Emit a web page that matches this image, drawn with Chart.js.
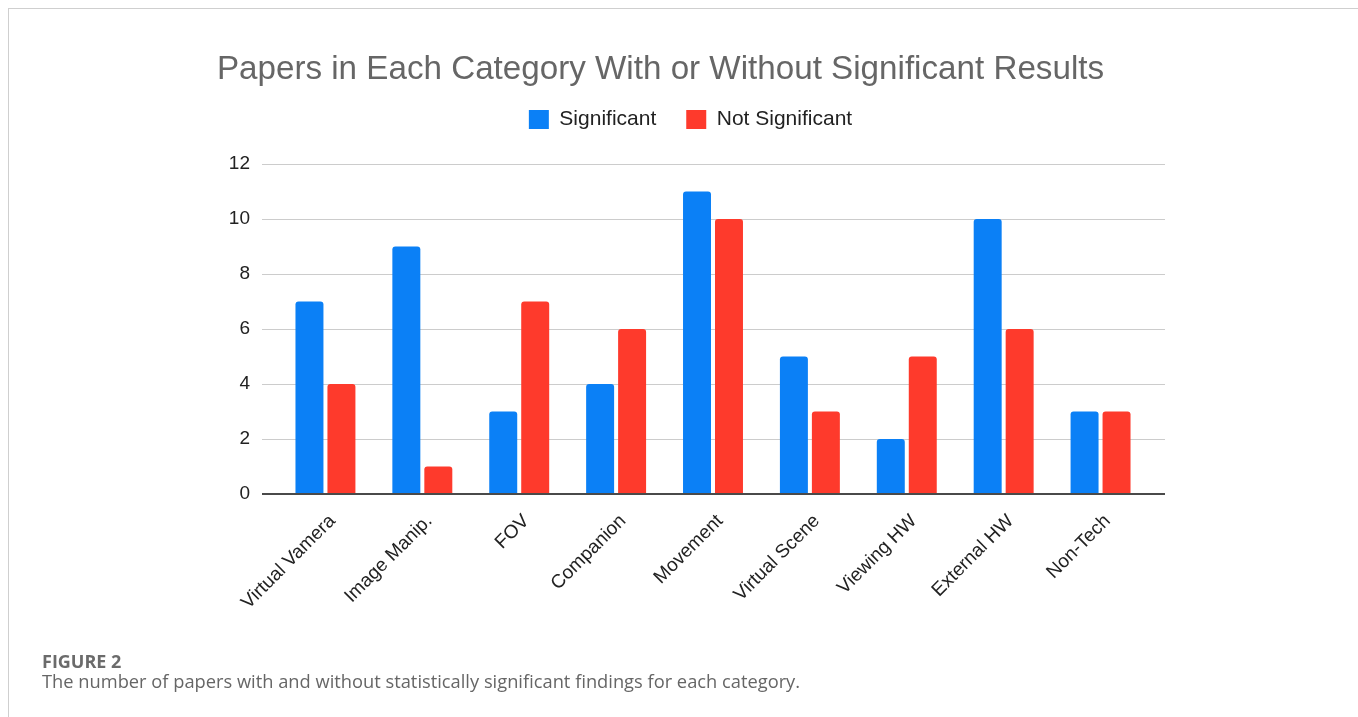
<!DOCTYPE html>
<html>
<head>
<meta charset="utf-8">
<script src="https://cdn.jsdelivr.net/npm/chart.js@4.4.1/dist/chart.umd.min.js"></script>
<style>
  body { margin: 0; background: #fff; }
  #page { position: relative; width: 1358px; height: 717px; overflow: hidden; background: #fff; }
  #frame { position: absolute; left: 8px; top: 8px; width: 1360px; height: 720px;
           border-top: 1px solid #cfcfcf; border-left: 1px solid #cfcfcf; }
  #wrap { position: absolute; left: 0; top: 0; width: 1358px; height: 717px; }
  #title { position: absolute; left: 0; top: 51px; width: 1321px; text-align: center;
           font: 33.2px/33px "Liberation Sans", Arial, sans-serif; color: #666; white-space: nowrap; }
  #figlabel { position: absolute; left: 42px; top: 649px; font: bold 18px/24px "Open Sans", sans-serif; color: #6b6b6b; }
  #caption { position: absolute; left: 42px; top: 671px; font: 18.3px/20px "Open Sans", sans-serif; color: #666; white-space: nowrap; }
</style>
</head>
<body>
<div id="page">
  <div id="frame"></div>
  <div id="wrap"><canvas id="chart"></canvas></div>
  <div id="title">Papers in Each Category With or Without Significant Results</div>
  <div id="figlabel">FIGURE 2</div>
  <div id="caption">The number of papers with and without statistically significant findings for each category.</div>
</div>
<script>
const categories = ['Virtual Vamera', 'Image Manip.', 'FOV', 'Companion', 'Movement',
                    'Virtual Scene', 'Viewing HW', 'External HW', 'Non-Tech'];
const significant = [7, 9, 3, 4, 11, 5, 2, 10, 3];
const notSignificant = [4, 1, 7, 6, 10, 3, 5, 6, 3];
const yTicks = [0, 2, 4, 6, 8, 10, 12];

const labelFont = { family: '"Liberation Sans", Arial, sans-serif', size: 19 };

// gridlines run a bit past the plot on both sides, like the sheets chart
const gridPlugin = {
  id: 'wideGrid',
  beforeDatasetsDraw(chart) {
    const { ctx, chartArea, scales: { y } } = chart;
    ctx.save();
    ctx.strokeStyle = '#cccccc';
    ctx.lineWidth = 1.2;
    y.ticks.forEach(t => {
      if (t.value === 0) return;
      const py = Math.round(y.getPixelForValue(t.value)) + 0.5;
      ctx.beginPath();
      ctx.moveTo(chartArea.left - 15, py);
      ctx.lineTo(chartArea.right + 16, py);
      ctx.stroke();
    });
    ctx.restore();
  },
  afterDatasetsDraw(chart) {
    const { ctx, chartArea, scales: { y } } = chart;
    const py = Math.round(y.getPixelForValue(0));
    ctx.save();
    ctx.strokeStyle = '#4a4a4a';
    ctx.lineWidth = 2;
    ctx.beginPath();
    ctx.moveTo(chartArea.left - 15, py);
    ctx.lineTo(chartArea.right + 16, py);
    ctx.stroke();
    ctx.restore();
  }
};

new Chart(document.getElementById('chart'), {
  type: 'bar',
  data: {
    labels: categories,
    datasets: [
      { label: 'Significant', data: significant, backgroundColor: '#0b80f6',
        borderRadius: 3, categoryPercentage: 0.66, barPercentage: 0.875 },
      { label: 'Not Significant', data: notSignificant, backgroundColor: '#fe3a2c',
        borderRadius: 3, categoryPercentage: 0.66, barPercentage: 0.875 }
    ]
  },
  options: {
    responsive: true,
    maintainAspectRatio: false,
    animation: false,
    layout: { padding: { left: 195, right: 172, top: 79, bottom: 93 } },
    plugins: {
      legend: {
        position: 'top',
        labels: { boxWidth: 20, boxHeight: 19, padding: 30, color: '#222',
                  font: { family: '"Liberation Sans", Arial, sans-serif', size: 21 } }
      },
      subtitle: { display: true, text: '', weight: 900, padding: 0, font: { size: 20, lineHeight: 1.2 } },
      tooltip: { enabled: false }
    },
    scales: {
      x: {
        grid: { display: false },
        border: { display: false },
        ticks: { color: '#222', font: labelFont, minRotation: 45, maxRotation: 45, padding: 8, labelOffset: 7 },
        afterFit: s => { s.height = 130; }
      },
      y: {
        min: 0,
        max: 12,
        afterBuildTicks: s => { s.ticks = yTicks.map(v => ({ value: v })); },
        grid: { display: false, drawTicks: false },
        border: { display: false },
        ticks: { color: '#222', font: labelFont, padding: 27 },
        afterFit: s => { s.width = 82; }
      },
      // empty right-hand axis, only keeps the plot where the original has it
      yPad: {
        type: 'linear',
        axis: 'y',
        position: 'right',
        grid: { display: false },
        border: { display: false },
        ticks: { display: false },
        afterFit: s => { s.width = 37; }
      }
    }
  },
  plugins: [gridPlugin]
});
</script>
</body>
</html>
